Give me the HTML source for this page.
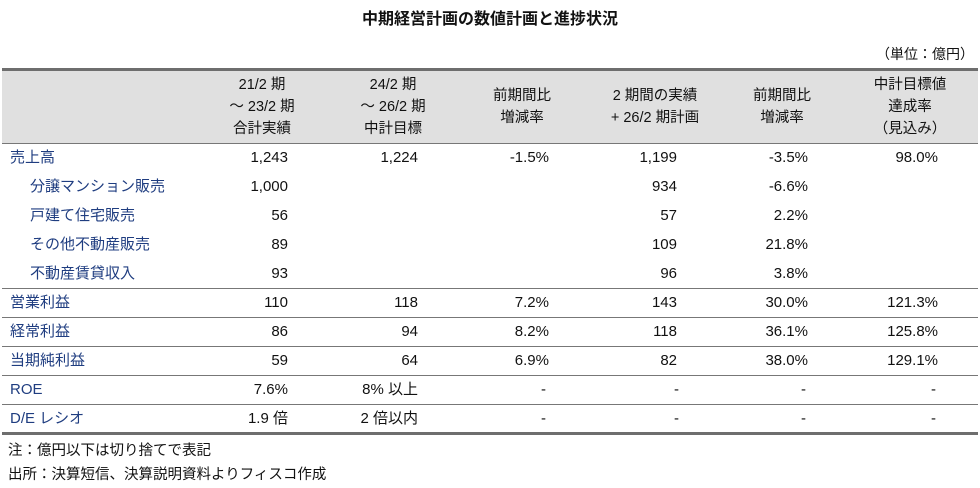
<!DOCTYPE html>
<html><head><meta charset="utf-8"><style>
body{margin:0;width:980px;height:488px;background:#fff;font-family:"Liberation Sans","Noto Sans CJK JP",sans-serif;position:relative;overflow:hidden;color:#111}
.a{position:absolute;white-space:nowrap}
.t{left:0;width:980px;top:5px;text-align:center;font-size:16px;font-weight:bold}
.hd{position:absolute;left:2px;width:976px;top:70px;height:73px;background:#e0e0e0}
.ln{position:absolute;left:2px;width:976px;height:1px;background:#777}
.hc{position:absolute;top:72px;height:70px;display:flex;align-items:center;justify-content:center;text-align:center;font-size:14.5px;line-height:22px;width:130px}
.lb{position:absolute;font-size:15px;color:#1f3d80;height:29px;line-height:29px}
.v{position:absolute;font-size:15px;height:29px;line-height:29px;text-align:right;width:120px}
.n{position:absolute;font-size:14.5px;left:8px}
</style></head><body>
<div class="a t">中期経営計画の数値計画と進捗状況</div>
<div class="a" style="right:6px;top:44px;font-size:14px">（単位：億円）</div>
<div class="hd"></div>
<div class="ln" style="top:68px;height:3px;background:#6e6e6e"></div>
<div class="ln" style="top:143px"></div>
<div class="hc" style="left:197px">21/2 期<br>～ 23/2 期<br>合計実績</div>
<div class="hc" style="left:328px">24/2 期<br>～ 26/2 期<br>中計目標</div>
<div class="hc" style="left:457px">前期間比<br>増減率</div>
<div class="hc" style="left:590px">2 期間の実績<br>+ 26/2 期計画</div>
<div class="hc" style="left:717px">前期間比<br>増減率</div>
<div class="hc" style="left:845px">中計目標値<br>達成率<br>（見込み）</div>
<div id="rows"></div>
<div class="ln" style="top:432px;height:3px;background:#6e6e6e"></div>
<div class="n" style="top:439px">注：億円以下は切り捨てで表記</div>
<div class="n" style="top:463px">出所：決算短信、決算説明資料よりフィスコ作成</div>
<script>
const labels=["売上高","分譲マンション販売","戸建て住宅販売","その他不動産販売","不動産賃貸収入","営業利益","経常利益","当期純利益","ROE","D/E レシオ"];
const indent=[0,1,1,1,1,0,0,0,0,0];
const col1=["1,243","1,000","56","89","93","110","86","59","7.6%","1.9 倍"];
const col2=["1,224","","","","","118","94","64","8% 以上","2 倍以内"];
const col3=["-1.5%","","","","","7.2%","8.2%","6.9%","-","-"];
const col4=["1,199","934","57","109","96","143","118","82","-","-"];
const col5=["-3.5%","-6.6%","2.2%","21.8%","3.8%","30.0%","36.1%","38.0%","-","-"];
const col6=["98.0%","","","","","121.3%","125.8%","129.1%","-","-"];
const cols=[col1,col2,col3,col4,col5,col6];
const rights=[288,418,549,677,808,938];
const dashR=[0,0,546,679,806,936];
const lineAfter=[4,5,6,7,8];
const root=document.getElementById('rows');
labels.forEach((l,i)=>{
  const y=143+29*i;
  const d=document.createElement('div');
  d.className='lb';d.style.top=y+'px';d.style.left=(indent[i]?30:10)+'px';d.textContent=l;
  
  
  root.appendChild(d);
  cols.forEach((c,j)=>{
    if(!c[i])return;
    const v=document.createElement('div');
    v.className='v';v.style.top=y+'px';
    const r=c[i]==='-'?dashR[j]:rights[j];
    v.style.left=(r-120)+'px';v.textContent=c[i];
    
    
    root.appendChild(v);
  });
  if(lineAfter.includes(i)){
    const ln=document.createElement('div');
    ln.className='ln';ln.style.top=(y+29)+'px';
    
    
    root.appendChild(ln);
  }
});
</script>
</body></html>
